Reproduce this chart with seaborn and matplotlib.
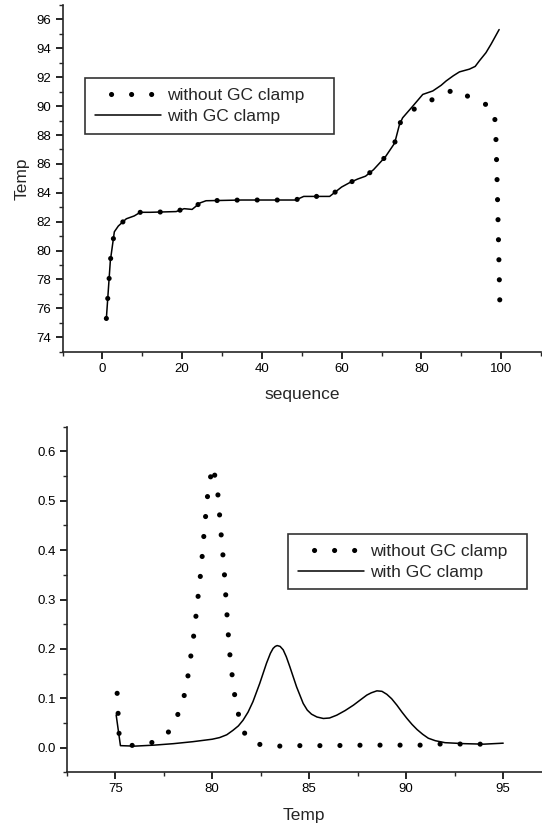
import matplotlib
matplotlib.use("Agg")
import matplotlib.pyplot as plt
import seaborn as sns
from matplotlib.lines import Line2D
from matplotlib.ticker import MultipleLocator

# top panel: melting temperature along the sequence
seq_with = [1, 2, 3, 4, 6, 8, 9.5, 12, 18.5, 20.5, 22.5, 24.5, 26, 35, 48.5, 50.5, 57, 60, 62,
            64, 66, 68, 69.5, 71, 73.3, 74.5, 75.3, 77.85, 80.35, 82.86, 84.95, 86.2, 88,
            89.55, 92.05, 93.5, 94.56, 96.2, 97.5, 98.5, 99.5]
temp_with = [75.3, 79.3, 81.3, 81.7, 82.2, 82.4, 82.65, 82.65, 82.7, 82.9, 82.85, 83.3, 83.45,
             83.5, 83.5, 83.75, 83.75, 84.4, 84.7, 84.95, 85.15, 85.6, 86.05, 86.5, 87.44,
             88.72, 89.19, 90.0, 90.81, 91.05, 91.44, 91.74, 92.1, 92.37, 92.56, 92.75, 93.14,
             93.7, 94.3, 94.8, 95.3]
seq_without = [1, 2, 3, 4, 6, 8, 9.5, 12, 18.5, 20.5, 22.5, 24.5, 26, 35, 48.5, 50.5, 57, 60, 62,
               64, 66, 68, 69.5, 71, 73.3, 74.5, 75.3, 76.5, 78.9, 81.3, 83.7, 86.2, 88.7, 90.8,
               92.9, 95.2, 97.5, 98.2, 98.6, 98.9, 99.2, 99.45, 99.7]
temp_without = [75.3, 79.3, 81.3, 81.7, 82.2, 82.4, 82.65, 82.65, 82.7, 82.9, 82.85, 83.3, 83.45,
                83.5, 83.5, 83.75, 83.75, 84.4, 84.7, 84.95, 85.15, 85.6, 86.05, 86.5, 87.44,
                88.72, 89.19, 89.55, 89.89, 90.25, 90.58, 90.9, 91.2, 90.85, 90.42, 90.2, 90.0,
                89.6, 88.7, 85.8, 82.4, 79.3, 76.0]

# bottom panel: melting profile
t_with = [75.05, 75.27, 76.0, 77.0, 78.0, 79.0, 80.0, 80.38, 80.75, 81.07, 81.35, 81.59, 81.85,
          82.1, 82.45, 82.8, 83.0, 83.14, 83.25, 83.35, 83.5, 83.66, 83.82, 84.0, 84.35, 84.69,
          84.9, 85.12, 85.4, 85.73, 86.05, 86.42, 86.85, 87.28, 87.65, 87.97, 88.2, 88.49,
          88.75, 89.0, 89.25, 89.52, 89.78, 90.04, 90.3, 90.56, 90.85, 91.14, 91.5, 92.0, 93.0,
          94.0, 95.0]
d_with = [0.066, 0.004, 0.003, 0.005, 0.008, 0.012, 0.017, 0.0203, 0.026, 0.035, 0.044, 0.0555,
          0.072, 0.093, 0.130, 0.171, 0.191, 0.201, 0.205, 0.2067, 0.205, 0.198, 0.184, 0.164,
          0.123, 0.0895, 0.076, 0.0677, 0.062, 0.059, 0.060, 0.0657, 0.075, 0.086, 0.097,
          0.1064, 0.111, 0.115, 0.114, 0.108, 0.099, 0.086, 0.072, 0.059, 0.047, 0.0366, 0.027,
          0.019, 0.014, 0.010, 0.008, 0.007, 0.009]
t_without = [75.1, 75.2, 75.5, 76.0, 76.8, 77.4, 77.83, 78.35, 78.64, 78.8, 79.09, 79.2, 79.43,
             79.6, 79.8, 80.03, 80.26, 80.35, 80.43, 80.61, 80.74, 80.88, 81.1, 81.28, 81.55,
             81.9, 82.32, 83.39, 84.5, 86.0, 88.0, 90.0, 91.0, 92.0, 93.0, 94.2]
d_without = [0.11, 0.028, 0.006, 0.004, 0.009, 0.018, 0.035, 0.077, 0.117, 0.158, 0.239, 0.281,
             0.362, 0.444, 0.526, 0.57, 0.528, 0.487, 0.446, 0.364, 0.282, 0.2, 0.12, 0.079,
             0.037, 0.015, 0.007, 0.003, 0.004, 0.004, 0.005, 0.005, 0.005, 0.008, 0.007, 0.007]

labels = ["without GC clamp", "with GC clamp"]

sns.set_style("ticks")
plt.rcParams["font.family"] = ["Liberation Sans", "DejaVu Sans"]
plt.rcParams["axes.linewidth"] = 1.2

DOT_LW = 3.7
dotted = (0, (0.01, 3.89))

fig = plt.figure(figsize=(5.42, 8.26), dpi=100)
ax1 = fig.add_axes([62.5 / 542, 1 - 351.7 / 826, 478.5 / 542, 346.7 / 826])
ax2 = fig.add_axes([66.7 / 542, 53.7 / 826, 475.3 / 542, 345.6 / 826])

sns.lineplot(x=seq_with, y=temp_with, ax=ax1, color="black", lw=1.1, sort=False, estimator=None,
             solid_joinstyle="round")
sns.lineplot(x=seq_without, y=temp_without, ax=ax1, color="black", lw=DOT_LW, linestyle=dotted,
             dash_capstyle="round", sort=False, estimator=None)
sns.lineplot(x=t_with, y=d_with, ax=ax2, color="black", lw=1.1, sort=False, estimator=None,
             solid_joinstyle="round")
sns.lineplot(x=t_without, y=d_without, ax=ax2, color="black", lw=DOT_LW, linestyle=dotted,
             dash_capstyle="round", sort=False, estimator=None)

ax1.set_xlim(-10, 110)
ax1.set_ylim(73, 97)
ax1.xaxis.set_major_locator(MultipleLocator(20))
ax1.xaxis.set_minor_locator(MultipleLocator(10))
ax1.yaxis.set_major_locator(MultipleLocator(2))
ax1.yaxis.set_minor_locator(MultipleLocator(1))
ax1.set_xlabel("sequence", fontsize=12.5, labelpad=9)
ax1.set_ylabel("Temp", fontsize=12.5, labelpad=5)

ax2.set_xlim(72.5, 97)
ax2.set_ylim(-0.05, 0.65)
ax2.xaxis.set_major_locator(MultipleLocator(5))
ax2.xaxis.set_minor_locator(MultipleLocator(2.5))
ax2.yaxis.set_major_locator(MultipleLocator(0.1))
ax2.yaxis.set_minor_locator(MultipleLocator(0.05))
ax2.set_xlabel("Temp", fontsize=12.5, labelpad=9)
ax2.set_ylabel("")

# legend handles: dots start a bit inside the handle, like the original
h_dot = Line2D([], [], color="black", lw=DOT_LW, linestyle=(0.78, (0.01, 3.89)),
               dash_capstyle="round")
h_line = Line2D([], [], color="black", lw=1.1)

for ax, anchor in [(ax1, (85.4 / 542, 1 - 78.3 / 826, 248.2 / 542, 0)),
                   (ax2, (288 / 542, 1 - 534 / 826, 238.5 / 542, 0))]:
    sns.despine(ax=ax)
    ax.tick_params(which="major", direction="out", length=5, width=1.2, labelsize=9.5, pad=3,
                   colors="black")
    ax.tick_params(which="minor", direction="out", length=3, width=1.0)
    leg = ax.legend([h_dot, h_line], labels, loc="upper left", bbox_to_anchor=anchor,
                    bbox_transform=fig.transFigure, mode="expand", borderaxespad=0,
                    fontsize=12.5, handlelength=3.8, handletextpad=0.35, labelspacing=0.34,
                    borderpad=0.55, frameon=True, fancybox=False, edgecolor="black")
    leg.get_frame().set_linewidth(1.2)

fig.savefig("out.png", dpi=100)
